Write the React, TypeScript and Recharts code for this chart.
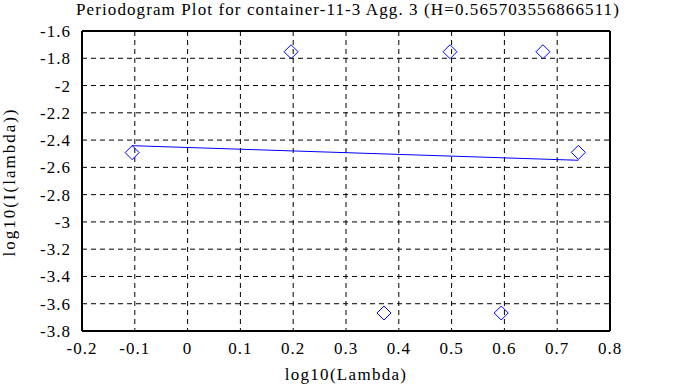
import { ScatterChart, Scatter, XAxis, YAxis, CartesianGrid, ReferenceLine } from 'recharts'

// log10 of the Fourier frequencies and the periodogram values
const logLambda = [-0.105, 0.196, 0.372, 0.497, 0.594, 0.673, 0.74]
const logI = [-2.492, -1.752, -3.668, -1.752, -3.668, -1.752, -2.49]

// least squares fit, drawn as a straight segment
const fitX = [-0.105, 0.74]
const fitY = [-2.441, -2.548]

const xTicks = [-0.2, -0.1, 0, 0.1, 0.2, 0.3, 0.4, 0.5, 0.6, 0.7, 0.8]
const yTicks = [-3.8, -3.6, -3.4, -3.2, -3, -2.8, -2.6, -2.4, -2.2, -2, -1.8, -1.6]

const title = 'Periodogram Plot for container-11-3 Agg. 3 (H=0.565703556866511)'

const points = logLambda.map((x, i) => ({ x, y: logI[i] }))
const fitLine = fitX.map((x, i) => ({ x, y: fitY[i] }))

const font = 'Liberation Serif, Times New Roman, serif'
const tickStyle = { fill: '#000', fontSize: 17, fontFamily: font, letterSpacing: 1 }

const Diamond = (props: any) => {
  const { cx, cy } = props
  const r = 7
  return (
    <path
      d={`M${cx},${cy - r}L${cx + r},${cy}L${cx},${cy + r}L${cx - r},${cy}Z`}
      fill="none"
      stroke="#0000ff"
      strokeWidth={1}
    />
  )
}

const fmt = (v: number) => String(Math.round(v * 10) / 10)

export default function App() {
  return (
    <div style={{ position: 'fixed', left: 0, top: 0, width: 673, height: 387, background: '#fff', fontFamily: font }}>
      <ScatterChart width={673} height={387} margin={{ top: 31, right: 63, bottom: 0, left: 0 }} style={{ fontFamily: font }}>
        <CartesianGrid stroke="#000" strokeDasharray="5 4" strokeWidth={1} />
        <XAxis
          type="number"
          dataKey="x"
          domain={[-0.2, 0.8]}
          ticks={xTicks}
          tickFormatter={fmt}
          height={56}
          tickSize={0}
          tickMargin={11}
          tick={tickStyle}
          axisLine={{ stroke: '#000', strokeWidth: 2 }}
          allowDataOverflow
        />
        <YAxis
          type="number"
          dataKey="y"
          domain={[-3.8, -1.6]}
          ticks={yTicks}
          tickFormatter={fmt}
          width={82}
          tickSize={0}
          tickMargin={11}
          tick={tickStyle}
          axisLine={{ stroke: '#000', strokeWidth: 2 }}
          allowDataOverflow
        />
        {/* inward tick marks on all four sides */}
        <XAxis xAxisId="bIn" type="number" dataKey="x" domain={[-0.2, 0.8]} ticks={xTicks} mirror
          orientation="bottom" tickSize={6} axisLine={false} tickLine={{ stroke: '#000', strokeWidth: 2 }}
          tickFormatter={() => ''} />
        <XAxis xAxisId="tIn" type="number" dataKey="x" domain={[-0.2, 0.8]} ticks={xTicks} mirror
          orientation="top" tickSize={6} axisLine={false} tickLine={{ stroke: '#000', strokeWidth: 2 }}
          tickFormatter={() => ''} />
        <YAxis yAxisId="lIn" type="number" dataKey="y" domain={[-3.8, -1.6]} ticks={yTicks} mirror
          orientation="left" tickSize={6} axisLine={false} tickLine={{ stroke: '#000', strokeWidth: 2 }}
          tickFormatter={() => ''} />
        <YAxis yAxisId="rIn" type="number" dataKey="y" domain={[-3.8, -1.6]} ticks={yTicks} mirror
          orientation="right" tickSize={6} axisLine={false} tickLine={{ stroke: '#000', strokeWidth: 2 }}
          tickFormatter={() => ''} />
        <ReferenceLine y={-1.6} stroke="#000" strokeWidth={2} />
        <ReferenceLine x={0.8} stroke="#000" strokeWidth={2} />
        <Scatter
          data={fitLine}
          line={{ stroke: '#0000ff', strokeWidth: 1 }}
          shape={() => <g />}
          isAnimationActive={false}
        />
        <Scatter data={points} shape={Diamond} isAnimationActive={false} />
        <text x={348} y={15} textAnchor="middle" fontSize={17} fontFamily={font} letterSpacing={1.1} fill="#000">
          {title}
        </text>
        <text x={346} y={380} textAnchor="middle" fontSize={17} fontFamily={font} letterSpacing={1.3} fill="#000">
          log10(Lambda)
        </text>
        <text x={15} y={182} transform="rotate(-90, 15, 182)" textAnchor="middle" fontSize={17}
          fontFamily={font} letterSpacing={2} fill="#000">
          log10(I(lambda))
        </text>
      </ScatterChart>
    </div>
  )
}
